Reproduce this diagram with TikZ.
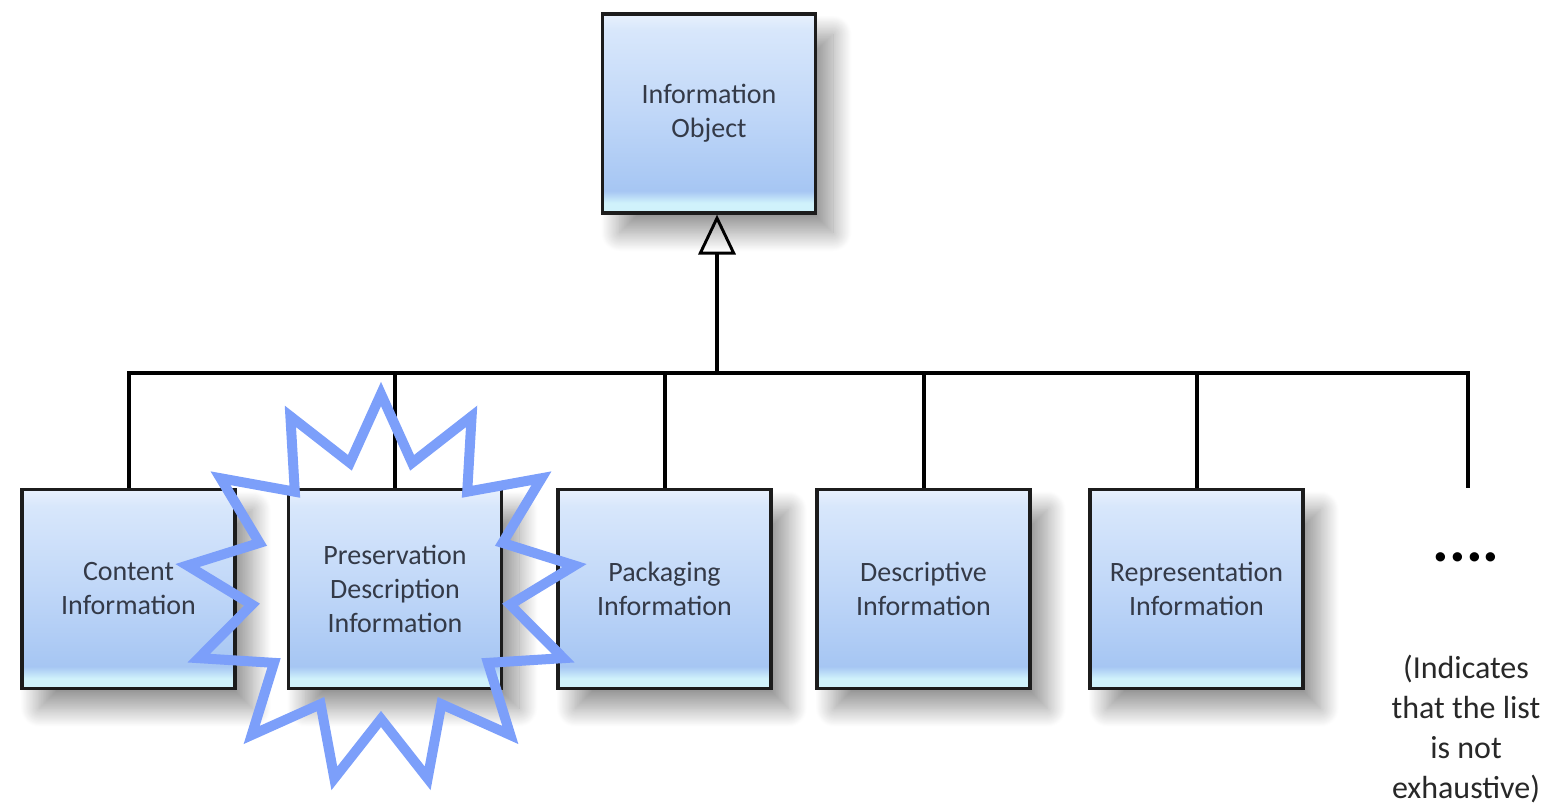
\documentclass[tikz,border=0pt]{standalone}
\usepackage{fontspec}
\setmainfont{Carlito}
\usetikzlibrary{arrows.meta,shadows.blur}

\definecolor{boxedge}{RGB}{232,241,253}
\definecolor{boxtop}{RGB}{216,231,251}
\definecolor{boxmid}{RGB}{192,215,248}
\definecolor{boxlow}{RGB}{166,198,243}
\definecolor{boxstrip}{RGB}{208,242,251}
\definecolor{boxtext}{RGB}{52,58,72}
\definecolor{burstblue}{RGB}{124,159,250}
\pgfdeclareverticalshading{boxfill}{100bp}{color(0bp)=(boxstrip); color(25bp)=(boxstrip); color(27.5bp)=(boxstrip); color(30.5bp)=(boxlow); color(50bp)=(boxmid); color(71bp)=(boxtop); color(75bp)=(boxedge); color(100bp)=(boxedge)}

\tikzset{every picture/.style={line width=0.75pt}}
\tikzset{
  infobox/.style={draw={rgb,255:red,28;green,28;blue,28}, line width=2.7pt, shade, shading=boxfill,
    minimum width=160pt, minimum height=149pt, inner sep=0pt, align=center, text=boxtext,
    font=\fontsize{21}{25.5}\selectfont,
    blur shadow={shadow xshift=13pt, shadow yshift=-15pt, shadow blur radius=14pt, shadow blur steps=30, shadow opacity=42}},
  link/.style={draw=black, line width=3pt},
  burst/.style={draw=burstblue, line width=7.5pt, miter limit=10}
}

\begin{document}
\begin{tikzpicture}[x=0.75pt,y=0.75pt,yscale=-1,xscale=1]
\useasboundingbox (0,0) rectangle (1549,804);

%Box: Information Object
\node[infobox] (io) at (709,113.5) {Information\\Object};
%Boxes: second row
\node[infobox] (ci) at (128.5,589) {Content\\Information};
\node[infobox] (pdi) at (395,589) {Preservation\\Description\\Information};
\node[infobox] (pi) at (664.5,589) {Packaging\\Information};
\node[infobox] (di) at (923.5,589) {Descriptive\\Information};
\node[infobox] (ri) at (1196.5,589) {Representation\\Information};

\coordinate (join) at (717,373);
\coordinate (listend) at (1468,488);

%Straight Lines: bus
\draw[link] (ci.north) -- (ci.north |- join) -- (listend |- join) -- (listend);
\foreach \b in {pdi,pi,di,ri}
  \draw[link] (\b.north) -- (\b.north |- join);
%Straight Lines: generalisation arrow
\draw[link, line width=3.5pt, -{Triangle[open, length=30pt, width=28pt, line width=2.2pt]}] (join) -- (join |- io.south);

% Text Node
\node[anchor=base, font=\fontsize{47}{47}\selectfont\bfseries] (more) at (1466,561) {....};
% Text Node
\node[align=center, text={rgb,255:red,40;green,40;blue,40}, font=\fontsize{24}{30}\selectfont] (note) at (1466,729) {(Indicates\\that the list\\is not\\exhaustive)};

%Shape: Star (13 points)
\draw[burst, shift={(381,589)}] (270:195) \foreach \k in {1,...,25} { -- ({270+\k*360/26}:{ifthenelse(isodd(\k),130,195)}) } -- cycle;

\end{tikzpicture}
\end{document}
